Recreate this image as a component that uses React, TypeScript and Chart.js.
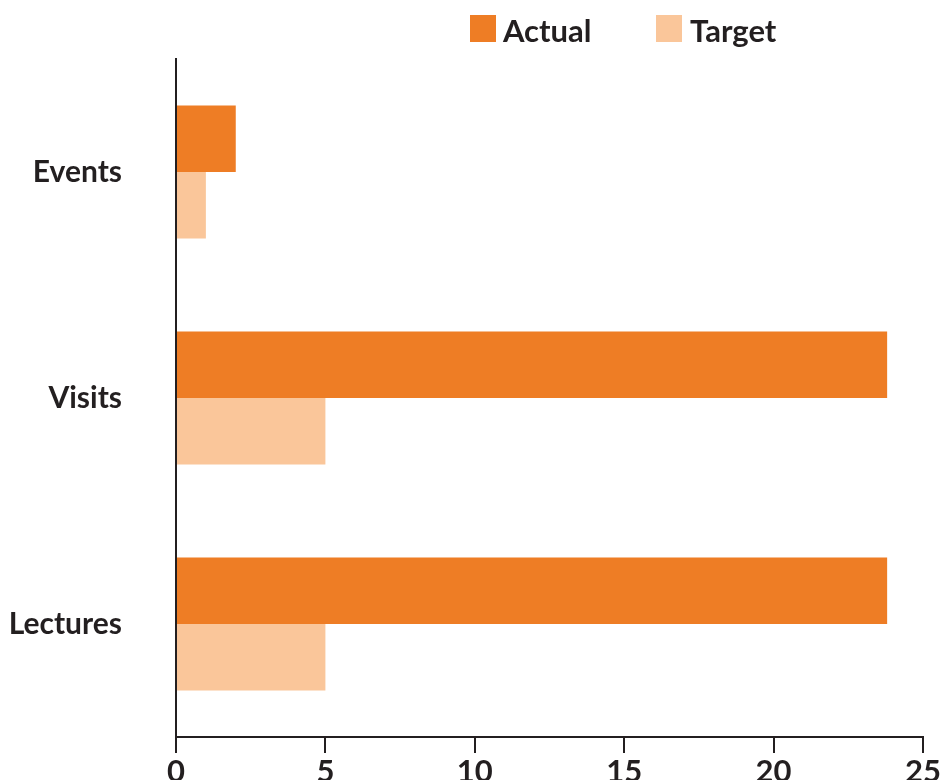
import React, { useEffect, useRef } from "react";
import { Chart, registerables } from "chart.js";

Chart.register(...registerables);

const categories = ["Events", "Visits", "Lectures"];
const actualValues = [2, 23.8, 23.8];
const targetValues = [1, 5, 5];
const seriesNames = ["Actual", "Target"];
const xMin = 0;
const xMax = 25;
const xStep = 5;

const ORANGE = "#EE7D25";
const PEACH = "#FAC69A";
const INK = "#231F20";
const FONT = "Lato, 'Liberation Sans', sans-serif";

const legendPlugin = {
  id: "customLegend",
  afterDraw(chart: any) {
    const ctx = chart.ctx;
    const ds = chart.data.datasets;
    const items = [
      { box: 470, text: 503 },
      { box: 656, text: 690 },
    ];
    ctx.save();
    ctx.font = `bold 31px ${FONT}`;
    ctx.textBaseline = "alphabetic";
    ctx.textAlign = "left";
    ds.forEach((d: any, i: number) => {
      const it = items[i];
      ctx.fillStyle = d.backgroundColor;
      ctx.fillRect(it.box, 15, 26, 27);
      ctx.fillStyle = INK;
      ctx.fillText(d.label, it.text, 42);
    });
    ctx.restore();
  },
};

export default function App() {
  const ref = useRef<HTMLCanvasElement | null>(null);
  useEffect(() => {
    if (!ref.current) return;
    const chart = new Chart(ref.current, {
      type: "bar",
      data: {
        labels: categories,
        datasets: [
          { label: seriesNames[0], data: actualValues, backgroundColor: ORANGE },
          { label: seriesNames[1], data: targetValues, backgroundColor: PEACH },
        ],
      },
      options: {
        indexAxis: "y",
        animation: false,
        responsive: true,
        maintainAspectRatio: false,
        layout: { padding: { top: 59, right: 23, left: 0, bottom: 0 } },
        datasets: {
          bar: { categoryPercentage: 0.588, barPercentage: 1 },
        },
        plugins: {
          legend: { display: false },
          tooltip: { enabled: false },
        },
        scales: {
          x: {
            min: xMin,
            max: xMax,
            ticks: {
              stepSize: xStep,
              color: INK,
              padding: 0,
              font: { family: FONT, size: 31, weight: "bold" },
            },
            grid: {
              drawOnChartArea: false,
              drawTicks: true,
              tickLength: 16,
              color: INK,
              lineWidth: 2,
            },
            border: { display: true, color: INK, width: 2 },
            afterFit(scale: any) {
              scale.height = 63;
              scale.paddingLeft = 0;
              scale.paddingRight = 0;
            },
          },
          y: {
            ticks: {
              color: INK,
              padding: 54,
              font: { family: FONT, size: 30, weight: "bold" },
            },
            grid: { display: false, drawTicks: false },
            border: { display: true, color: INK, width: 2 },
            afterFit(scale: any) {
              scale.width = 176;
              scale.paddingTop = 0;
              scale.paddingBottom = 0;
            },
          },
        },
      },
      plugins: [legendPlugin],
    });
    return () => chart.destroy();
  }, []);

  return (
    <div
      style={{
        position: "fixed",
        left: 0,
        top: 0,
        width: 946,
        height: 780,
        overflow: "hidden",
        background: "#fff",
      }}
    >
      <div style={{ position: "relative", width: 946, height: 800 }}>
        <canvas ref={ref} />
      </div>
    </div>
  );
}
